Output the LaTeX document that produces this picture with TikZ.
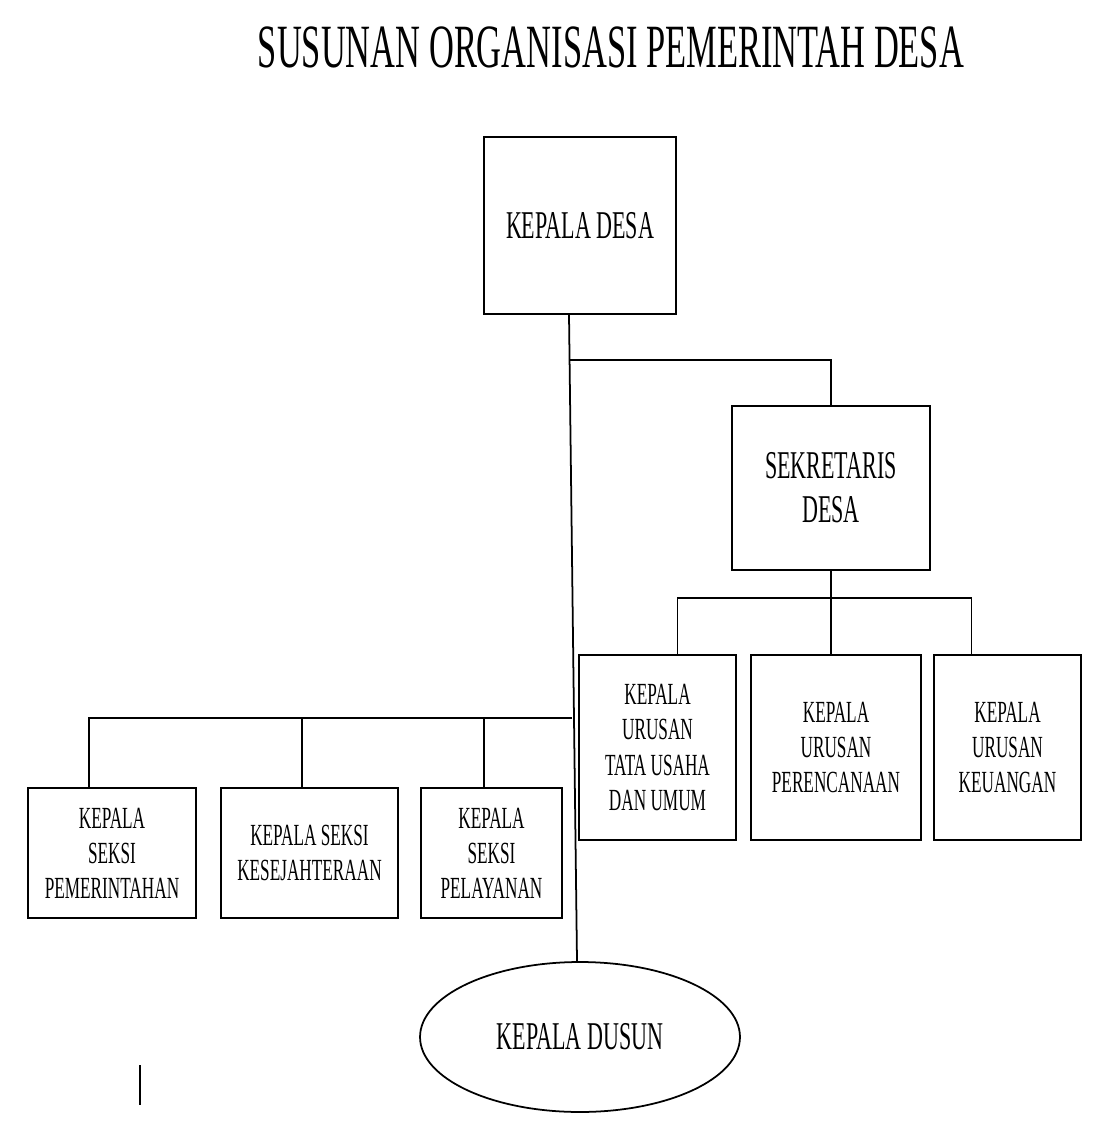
\documentclass[tikz,border=0pt]{standalone}
\usepackage{fontspec}
\setmainfont{Liberation Serif}[FakeStretch=0.56]
\usepackage{tikz}
\usetikzlibrary{shapes.geometric}

\begin{document}
\begin{tikzpicture}[x=0.02cm, y=-0.02cm, line width=1pt,
        unit/.style={draw, rectangle, align=center, inner sep=0pt},
        big/.style={font=\fontsize{22.4}{25}\selectfont},
        small/.style={font=\fontsize{17.5}{20}\selectfont}]
            \useasboundingbox (0,0) rectangle (1100,1142);
            \node (judul) at (611,47) {\fontsize{35}{40}\selectfont SUSUNAN ORGANISASI PEMERINTAH DESA};
            \node[unit, big, minimum width=3.84cm, minimum height=3.54cm] (kades) at (580,225.5) {KEPALA DESA};
            \node[unit, big, minimum width=3.96cm, minimum height=3.28cm] (sekdes) at (831,488) {SEKRETARIS\\DESA};
            \node[unit, small, minimum width=3.14cm, minimum height=3.7cm] (kaurtu) at (657.5,747.5) {KEPALA\\URUSAN\\TATA USAHA\\DAN UMUM};
            \node[unit, small, minimum width=3.4cm, minimum height=3.7cm] (kaurren) at (836,747.5) {KEPALA\\URUSAN\\PERENCANAAN};
            \node[unit, small, minimum width=2.94cm, minimum height=3.7cm] (kaurkeu) at (1007.5,747.5) {KEPALA\\URUSAN\\KEUANGAN};
            \node[unit, small, minimum width=3.36cm, minimum height=2.6cm] (kasipem) at (112,853) {KEPALA\\SEKSI\\PEMERINTAHAN};
            \node[unit, small, minimum width=3.54cm, minimum height=2.6cm] (kasikes) at (309.5,853) {KEPALA SEKSI\\KESEJAHTERAAN};
            \node[unit, small, minimum width=2.82cm, minimum height=2.6cm] (kasipel) at (491.5,853) {KEPALA\\SEKSI\\PELAYANAN};
            \node[draw, ellipse, big, minimum width=6.4cm, minimum height=3cm] (kadus) at (580,1037) {KEPALA DUSUN};

            \coordinate (j1) at (570,360);
            \coordinate (j2) at (831,598);
            \coordinate (j3) at (572,718);
            \coordinate (t1) at ([xshift=0.4cm]kaurtu.north);
            \coordinate (t3) at ([xshift=-0.72cm]kaurkeu.north);
            \coordinate (s1) at ([xshift=-0.46cm]kasipem.north);
            \coordinate (s2) at ([xshift=-0.15cm]kasikes.north);
            \coordinate (s3) at ([xshift=-0.15cm]kasipel.north);
            \coordinate (g1) at (140,1065);
            \coordinate (g2) at (140,1105);

            \draw ([xshift=-0.22cm]kades.south) -- ([xshift=-0.06cm]kadus.north);
            \draw (j1) -| (sekdes.north);
            \draw (sekdes.south) -- (sekdes.south |- kaurren.north);
            \draw (t1) |- (j2) -| (t3);
            \draw (j3) -| (s1);
            \draw (s2) -- (s2 |- j3);
            \draw (s3) -- (s3 |- j3);
            \draw (g1) -- (g2);
        \end{tikzpicture}
\end{document}
